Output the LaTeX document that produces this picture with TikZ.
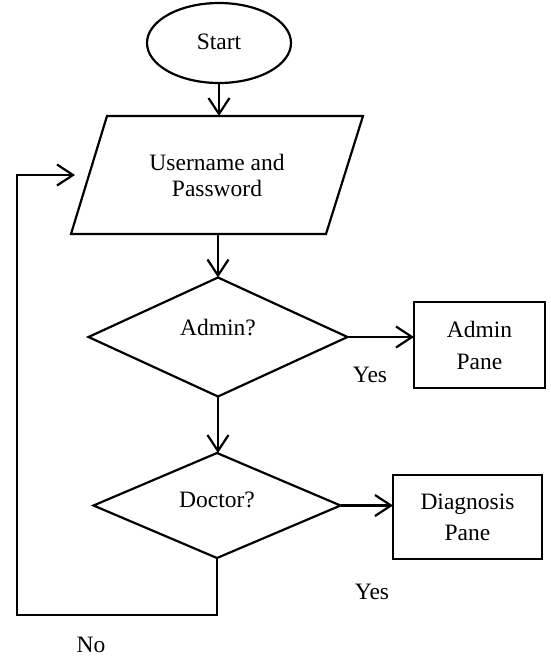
\documentclass[tikz,border=0pt]{standalone}
\usepackage{fontspec}
\setmainfont{Liberation Serif}
\usetikzlibrary{shapes.geometric,arrows.meta}
\begin{document}
\begin{tikzpicture}[x=1pt,y=-1pt,
  every node/.style={font=\fontsize{23.5}{26}\selectfont, inner sep=0pt, outer sep=0pt},
  shp/.style={draw, line width=2.2pt, line join=miter},
  arr/.style={line width=2.2pt, -{Straight Barb[length=16pt,width=21pt,line width=2.2pt]}},
  txt/.style={anchor=center}]
\useasboundingbox (0,0) rectangle (550,657);
\node[shp, ellipse, minimum width=144pt, minimum height=80pt] (start) at (219,43) {};
\node[txt] (starttxt) at (219,42) {Start};
\node[rectangle, minimum width=220pt, minimum height=118pt,
      align=center, font=\fontsize{23.5}{26}\selectfont] (in) at (217,175) {Username and\\Password};
\draw[shp] (107,116) -- (363,116) -- (326,234) -- (71,234) -- cycle;
\node[shp, diamond, minimum width=259pt, minimum height=119pt] (adm) at (218,337) {};
\node[txt] (admtxt) at (218,328) {Admin?};
\node[shp, line width=2.6pt, rectangle, minimum width=131pt, minimum height=86pt,
      align=center, font=\fontsize{23.5}{32}\selectfont] (apane) at (479.5,345) {Admin\\Pane};
\node[shp, diamond, minimum width=247pt, minimum height=105pt] (doc) at (217,505.5) {};
\node[txt] (doctxt) at (217,500) {Doctor?};
\node[shp, line width=2.6pt, rectangle, minimum width=149pt, minimum height=84pt,
      align=center, font=\fontsize{23.5}{31}\selectfont] (dpane) at (467.5,517) {Diagnosis\\Pane};
\node[txt] (yes1) at (370,375) {Yes};
\node[txt] (yes2) at (372,592) {Yes};
\node[txt] (no) at (91,645) {No};
\coordinate (corner) at (17,615);
\coordinate (ret) at (75,175);
\draw[arr] (start.south) -- (start.south |- in.north);
\draw[arr] (in.south -| adm.north) -- (adm.north);
\draw[arr] (adm.east) -- (adm.east -| apane.west);
\draw[arr] (adm.south) -- (adm.south |- doc.north);
\draw[arr] (doc.east) -- (doc.east -| dpane.west);
\draw[arr] (doc.south) |- (corner) |- (ret);
\end{tikzpicture}
\end{document}
